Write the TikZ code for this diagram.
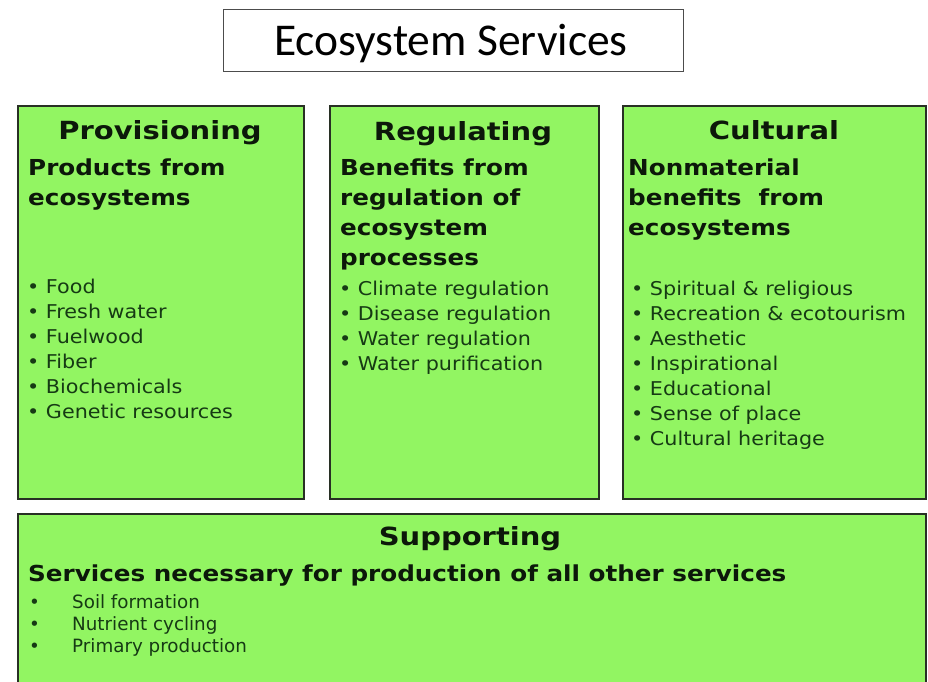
\documentclass[tikz,border=0pt]{standalone}
\usepackage{fontspec}
\setmainfont{DejaVu Sans}
\newfontfamily\titlefont{Carlito}
\newfontfamily\hdrfont{DejaVu Sans}[FakeStretch=1.16]
\newfontfamily\subfont{DejaVu Sans}[FakeStretch=1.12]
\newfontfamily\bulfont{DejaVu Sans}[FakeStretch=1.09]
\newfontfamily\supbulfont{DejaVu Sans}
\definecolor{boxgreen}{RGB}{146,245,98}
\definecolor{boxline}{RGB}{40,48,36}
\definecolor{hdrtext}{RGB}{12,24,10}
\definecolor{bultext}{RGB}{22,58,20}
\tikzset{
  greenbox/.style={draw=boxline, line width=1.6pt, fill=boxgreen, inner sep=0pt},
  titlebox/.style={draw=black!70, line width=1.3pt, fill=white, inner sep=0pt},
  titletext/.style={anchor=base, inner sep=0pt, font=\titlefont\fontsize{45.5}{50}\selectfont},
  hdr/.style={anchor=base, inner sep=0pt, text=hdrtext, font=\hdrfont\bfseries\fontsize{25}{30}\selectfont},
  sub/.style={anchor=base west, inner sep=0pt, text=hdrtext, font=\subfont\bfseries\fontsize{22}{30}\selectfont},
  bul/.style={anchor=base west, inner sep=0pt, text=bultext, font=\bulfont\fontsize{19}{25}\selectfont},
  supbul/.style={anchor=base west, inner sep=0pt, text=bultext, font=\supbulfont\fontsize{18.3}{22}\selectfont}
}
\begin{document}
\begin{tikzpicture}[x=1pt, y=-1pt]
\path[use as bounding box, fill=white] (0,0) rectangle (928,681);
\begin{scope}
\clip (0,0) rectangle (928,681);
% title
\node (titlebox) [titlebox, anchor=north west, minimum width=460pt, minimum height=62pt] at (223,9) {};
\node (title) [titletext] at (451,55) {Ecosystem Services};
% boxes
\node (prov) [greenbox, anchor=north west, minimum width=286pt, minimum height=393pt] at (17,105) {};
\node (reg) [greenbox, anchor=north west, minimum width=269pt, minimum height=393pt] at (329,105) {};
\node (cult) [greenbox, anchor=north west, minimum width=303pt, minimum height=393pt] at (622,105) {};
\node (supp) [greenbox, anchor=north west, minimum width=908pt, minimum height=180pt] at (17,513) {};
% provisioning
\node (provh) [hdr] at (160,139) {Provisioning};
\node (provs1) [sub] at (28,175) {Products from};
\node (provs2) [sub] at (28,205) {ecosystems};
\node (provb1) [bul] at (27,293) {\textbullet\ Food};
\node (provb2) [bul] at (27,318) {\textbullet\ Fresh water};
\node (provb3) [bul] at (27,343) {\textbullet\ Fuelwood};
\node (provb4) [bul] at (27,368) {\textbullet\ Fiber};
\node (provb5) [bul] at (27,393) {\textbullet\ Biochemicals};
\node (provb6) [bul] at (27,418) {\textbullet\ Genetic resources};
% regulating
\node (regh) [hdr] at (463,140) {Regulating};
\node (regs1) [sub] at (340,175) {Benefits from};
\node (regs2) [sub] at (340,205) {regulation of};
\node (regs3) [sub] at (340,235) {ecosystem};
\node (regs4) [sub] at (340,265) {processes};
\node (regb1) [bul] at (339,295) {\textbullet\ Climate regulation};
\node (regb2) [bul] at (339,320) {\textbullet\ Disease regulation};
\node (regb3) [bul] at (339,345) {\textbullet\ Water regulation};
\node (regb4) [bul] at (339,370) {\textbullet\ Water purification};
% cultural
\node (culth) [hdr] at (774,139) {Cultural};
\node (cults1) [sub] at (628,175) {Nonmaterial};
\node (cults2) [sub] at (628,205) {benefits\ \ from};
\node (cults3) [sub] at (628,235) {ecosystems};
\node (cultb1) [bul] at (631,295) {\textbullet\ Spiritual \& religious};
\node (cultb2) [bul] at (631,320) {\textbullet\ Recreation \& ecotourism};
\node (cultb3) [bul] at (631,345) {\textbullet\ Aesthetic};
\node (cultb4) [bul] at (631,370) {\textbullet\ Inspirational};
\node (cultb5) [bul] at (631,395) {\textbullet\ Educational};
\node (cultb6) [bul] at (631,420) {\textbullet\ Sense of place};
\node (cultb7) [bul] at (631,445) {\textbullet\ Cultural heritage};
% supporting
\node (supph) [hdr] at (470,545) {Supporting};
\node (supps) [sub] at (28,581) {Services necessary for production of all other services};
\node (suppd1) [supbul] at (29,608) {\textbullet};
\node (suppd2) [supbul] at (29,630) {\textbullet};
\node (suppd3) [supbul] at (29,652) {\textbullet};
\node (suppb1) [supbul] at (72,608) {Soil formation};
\node (suppb2) [supbul] at (72,630) {Nutrient cycling};
\node (suppb3) [supbul] at (72,652) {Primary production};
\end{scope}
\end{tikzpicture}
\end{document}
